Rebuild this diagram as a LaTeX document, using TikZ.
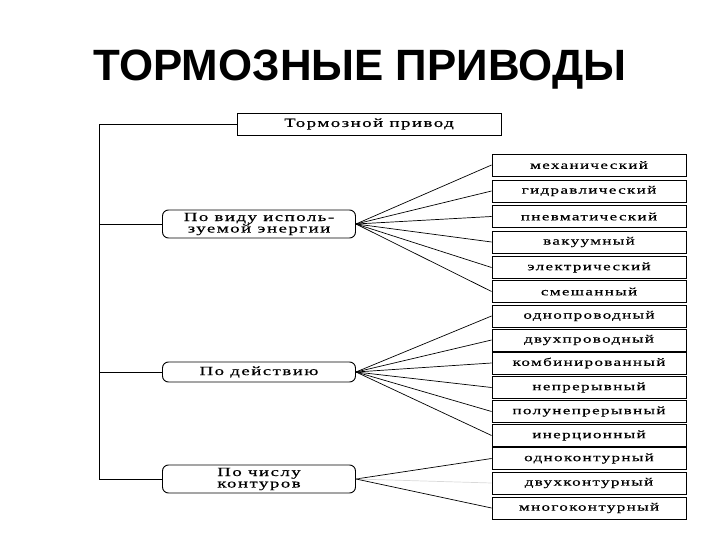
\documentclass[tikz,border=0pt]{standalone}
\usepackage{fontspec}
\setmainfont{Liberation Serif}
\newfontfamily\titlefont{Liberation Sans}
\newfontfamily\scanfont{Liberation Serif}[FakeStretch=1.5, FakeBold=0.6, LetterSpace=12]
\usetikzlibrary{positioning}

\begin{document}
\begin{tikzpicture}[x=1bp, y=-1bp,
  kind/.style={rectangle, draw, line width=0.9bp, minimum width=194bp, minimum height=22bp, inner sep=0pt, font=\scanfont\fontsize{11.4}{12}\selectfont},
  group/.style={rectangle, rounded corners=6bp, draw, line width=0.9bp, minimum width=193bp, inner sep=0pt, align=center, font=\scanfont\fontsize{12.6}{11.5}\selectfont},
  link/.style={line width=0.7bp}
]
  \useasboundingbox (0,0) rectangle (720,540);

  \node[font=\titlefont\bfseries\fontsize{44}{48}\selectfont] (title) at (360,70) {ТОРМОЗНЫЕ ПРИВОДЫ};

  \node[kind, minimum width=264bp, font=\scanfont\fontsize{12.6}{13}\selectfont] (drive) at (369,124) {Тормозной привод};

  % groups
  \node[group, minimum height=28bp] (energy) at (259,224) {По виду исполь-\\зуемой энергии};
  \node[group, minimum height=20bp] (action) at (259,372) {По действию};
  \node[group, minimum height=28bp] (circuits) at (259,479) {По числу\\контуров};

  % kinds of energy
  \node[kind] (mech) at (589,165) {механический};
  \node[kind] (hydr) at (589,191) {гидравлический};
  \node[kind] (pneu) at (589,216.5) {пневматический};
  \node[kind] (vac) at (589,242) {вакуумный};
  \node[kind] (elec) at (589,267.5) {электрический};
  \node[kind] (mixed) at (589,291.5) {смешанный};

  % kinds of action
  \node[kind] (onewire) at (589,316) {однопроводный};
  \node[kind] (twowire) at (589,340) {двухпроводный};
  \node[kind] (comb) at (589,363) {комбинированный};
  \node[kind] (cont) at (589,387.5) {непрерывный};
  \node[kind] (semi) at (589,411.5) {полунепрерывный};
  \node[kind] (inert) at (589,435.5) {инерционный};

  % number of circuits
  \node[kind] (onec) at (589,458.5) {одноконтурный};
  \node[kind] (twoc) at (589,483) {двухконтурный};
  \node[kind] (multc) at (589,508) {многоконтурный};

  % trunk
  \coordinate (bus) at (99,479);
  \draw[link] (drive.west) -| (bus) -- (circuits.west);
  \draw[link] (energy.west -| bus) -- (energy.west);
  \draw[link] (action.west -| bus) -- (action.west);

  \draw[link] (energy.east) -- (mech.west);
  \draw[link] (energy.east) -- (hydr.west);
  \draw[link] (energy.east) -- (pneu.west);
  \draw[link] (energy.east) -- (vac.west);
  \draw[link] (energy.east) -- (elec.west);
  \draw[link] (energy.east) -- (mixed.west);

  \draw[link] (action.east) -- (onewire.west);
  \draw[link] (action.east) -- (twowire.west);
  \draw[link] (action.east) -- (comb.west);
  \draw[link] (action.east) -- (cont.west);
  \draw[link] (action.east) -- (semi.west);
  \draw[link] (action.east) -- (inert.west);

  \draw[link] (circuits.east) -- (onec.west);
  \draw[link, black!15] (circuits.east) -- (twoc.west);
  \draw[link] (circuits.east) -- (multc.west);
\end{tikzpicture}
\end{document}
